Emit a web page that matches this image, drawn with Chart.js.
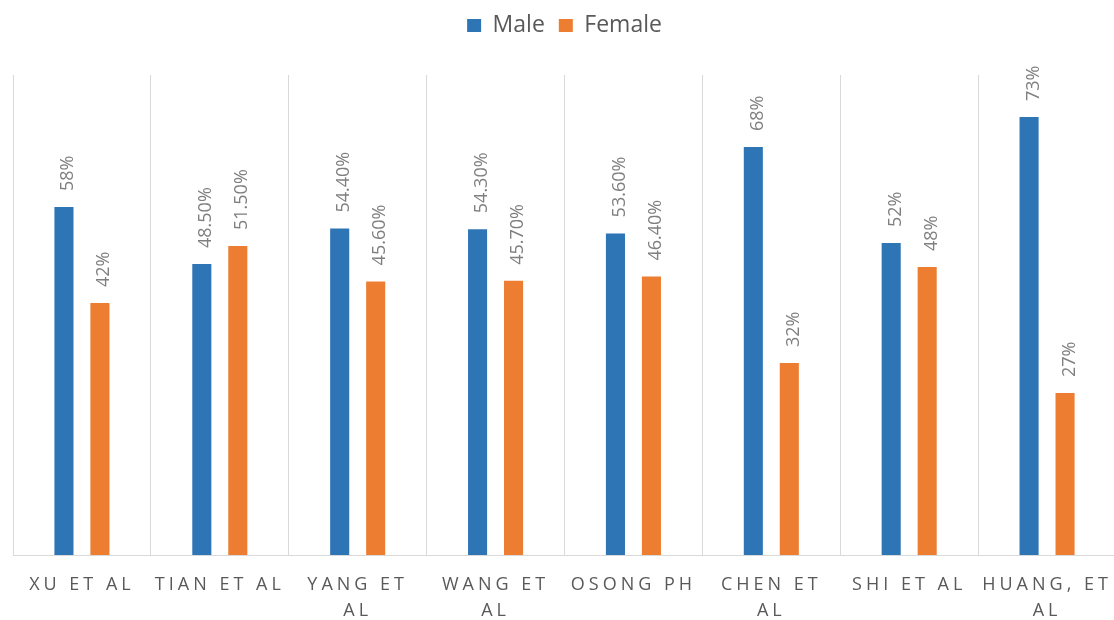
<!DOCTYPE html>
<html>
<head>
<meta charset="utf-8">
<script src="https://cdn.jsdelivr.net/npm/chart.js@4/dist/chart.umd.min.js"></script>
<style>
  html, body { margin: 0; padding: 0; background: #ffffff; overflow: hidden; }
  #wrap { position: relative; width: 1116px; height: 641px; }
</style>
</head>
<body>
<div id="wrap"><canvas id="chart"></canvas></div>
<script>
// Study labels (multi-line where the axis wraps them)
const studies = [
  'XU ET AL',
  'TIAN ET AL',
  ['YANG ET', 'AL'],
  ['WANG ET', 'AL'],
  'OSONG PH',
  ['CHEN ET', 'AL'],
  'SHI ET AL',
  ['HUANG, ET', 'AL']
];

// Share of each sex (%) per study
const maleShare   = [58, 48.5, 54.4, 54.3, 53.6, 68, 52, 73];
const femaleShare = [42, 51.5, 45.6, 45.7, 46.4, 32, 48, 27];

const seriesNames = ['Male', 'Female'];

const BLUE = '#2E75B6';
const ORANGE = '#ED7D31';
const TEXT_GREY = '#595959';
const LABEL_GREY = '#7F7F7F';
const GRID_GREY = '#D9D9D9';

function pctText(v) {
  return (Number.isInteger(v) ? String(v) : v.toFixed(2)) + '%';
}

// Rotated value labels above each bar
const valueLabels = {
  id: 'valueLabels',
  afterDatasetsDraw(chart) {
    const ctx = chart.ctx;
    chart.data.datasets.forEach((ds, di) => {
      const meta = chart.getDatasetMeta(di);
      meta.data.forEach((bar, i) => {
        ctx.save();
        ctx.font = '18px "Open Sans", sans-serif';
        ctx.fillStyle = LABEL_GREY;
        ctx.textAlign = 'left';
        ctx.textBaseline = 'alphabetic';
        ctx.translate(bar.x + 9.5, bar.y - 16);
        ctx.rotate(-Math.PI / 2);
        ctx.fillText(pctText(ds.data[i]), 0, 0);
        ctx.restore();
      });
    });
  }
};

// Wide tracking on the category axis labels
const trackedTicks = {
  id: 'trackedTicks',
  beforeDraw(chart) {
    const sc = chart.scales.x;
    if (sc && !sc._tracked) {
      const orig = sc.drawLabels.bind(sc);
      sc.drawLabels = function (area) {
        const ctx = chart.ctx;
        ctx.save();
        ctx.letterSpacing = '4px';
        orig(area);
        ctx.restore();
      };
      sc._tracked = true;
    }
  }
};

new Chart(document.getElementById('chart'), {
  type: 'bar',
  data: {
    labels: studies,
    datasets: [
      { label: seriesNames[0], data: maleShare, backgroundColor: BLUE,
        categoryPercentage: 0.522, barPercentage: 0.53 },
      { label: seriesNames[1], data: femaleShare, backgroundColor: ORANGE,
        categoryPercentage: 0.522, barPercentage: 0.53 }
    ]
  },
  options: {
    responsive: true,
    maintainAspectRatio: false,
    animation: false,
    layout: { padding: { left: 13, right: 0, top: 0, bottom: 0 } },
    plugins: {
      legend: {
        position: 'top',
        labels: {
          boxWidth: 14,
          boxHeight: 13,
          padding: 14,
          color: TEXT_GREY,
          font: { family: '"Open Sans", sans-serif', size: 23 }
        }
      },
      title: {
        display: true,
        text: '',
        weight: 500,
        font: { size: 10, lineHeight: 1.2 },
        padding: { top: 0, bottom: 16 }
      },
      tooltip: { enabled: false }
    },
    scales: {
      x: {
        grid: { display: true, offset: true, color: GRID_GREY, lineWidth: 1, drawTicks: false },
        border: { display: true, color: GRID_GREY, width: 1 },
        ticks: {
          autoSkip: false,
          maxRotation: 0,
          minRotation: 0,
          padding: 17,
          color: TEXT_GREY,
          font: { family: '"Open Sans", sans-serif', size: 18, lineHeight: 26 / 18 }
        }
      },
      y: {
        display: false,
        min: 0,
        max: 80
      }
    }
  },
  plugins: [valueLabels, trackedTicks]
});
</script>
</body>
</html>
